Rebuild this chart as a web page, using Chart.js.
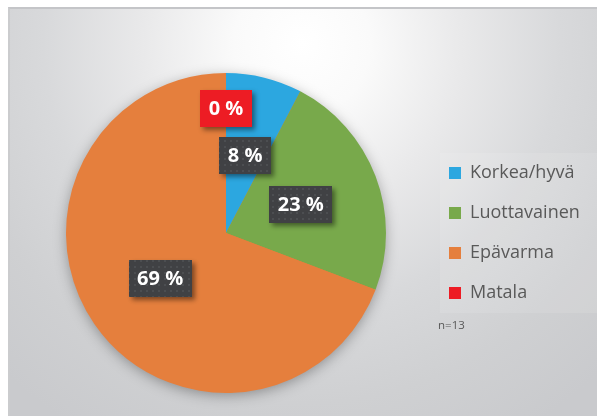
<!DOCTYPE html>
<html>
<head>
<meta charset="utf-8">
<script src="https://cdn.jsdelivr.net/npm/chart.js@4.4.1/dist/chart.umd.min.js"></script>
<style>
  html, body { margin: 0; padding: 0; background: #fff; }
  body { width: 597px; height: 416px; position: relative; overflow: hidden; }
  #bg {
    position: absolute; left: 8px; top: 7px; width: 600px; height: 420px;
    border-top: 2px solid #c4c5c8; border-left: 2px solid #cbccce;
    background: radial-gradient(ellipse 380px 390px at 292px 35px,
      #ffffff 0%, #fafafa 18%, #e9e9ea 42%, #d8d9db 68%, #cfd0d2 92%, #c9cacd 115%);
  }
  #chart { position: absolute; left: 0; top: 0; }
</style>
</head>
<body>
<div id="bg"></div>
<canvas id="chart" width="597" height="416"></canvas>
<script>
const categories = ['Korkea/hyvä', 'Luottavainen', 'Epävarma', 'Matala'];
const counts = [1, 3, 9, 0];
const sliceColors = ['#2CA7E0', '#78A94B', '#E57F3D', '#ED1C24'];
const sampleSize = 13;

// dotted fill for the dark label boxes
function makeDotPattern(ctx) {
    const c = document.createElement('canvas');
    c.width = 6; c.height = 6;
    const p = c.getContext('2d');
    p.fillStyle = '#404144';
    p.fillRect(0, 0, 6, 6);
    p.fillStyle = '#4c4e51';
    p.fillRect(2, 2, 2, 2);
    return ctx.createPattern(c, 'repeat');
}

const pieExtras = {
    id: 'pieExtras',
    beforeDraw(chart) {
        // faint panel behind the legend
        const ctx = chart.ctx, lg = chart.legend, ca = chart.chartArea;
        const cy = (ca.top + ca.bottom) / 2;
        ctx.save();
        ctx.fillStyle = 'rgba(255,255,255,0.1)';
        ctx.fillRect(lg.left + 13, cy - 80, chart.width - lg.left - 13, 160);
        ctx.restore();
    },
    beforeDatasetsDraw(chart) {
        // soft shadow under the pie
        const arc = chart.getDatasetMeta(0).data[0];
        const ctx = chart.ctx;
        ctx.save();
        ctx.shadowColor = 'rgba(0,0,0,0.35)';
        ctx.shadowBlur = 14;
        ctx.shadowOffsetY = 3;
        ctx.fillStyle = sliceColors[2];
        ctx.beginPath();
        ctx.arc(arc.x, arc.y, arc.outerRadius - 1, 0, Math.PI * 2);
        ctx.fill();
        ctx.restore();
    },
    afterDatasetsDraw(chart) {
        const ctx = chart.ctx;
        const meta = chart.getDatasetMeta(0);
        const pattern = makeDotPattern(ctx);
        ctx.save();
        ctx.font = 'bold 20px "Open Sans"';
        ctx.textAlign = 'center';
        ctx.textBaseline = 'middle';
        meta.data.forEach((arc, i) => {
            const text = Math.round(counts[i] / sampleSize * 100) + ' %';
            let x, y;
            if (counts[i] === 0) {
                const r = arc.outerRadius * 0.78;
                x = arc.x + Math.cos(arc.startAngle) * r;
                y = arc.y + Math.sin(arc.startAngle) * r;
            } else {
                const p = arc.tooltipPosition();
                x = p.x; y = p.y;
            }
            const w = Math.round(ctx.measureText(text).width + 17), h = 37;
            ctx.save();
            ctx.shadowColor = 'rgba(0,0,0,0.45)';
            ctx.shadowBlur = 5;
            ctx.shadowOffsetX = 3;
            ctx.shadowOffsetY = 3;
            ctx.fillStyle = counts[i] === 0 ? sliceColors[3] : pattern;
            ctx.fillRect(Math.round(x - w / 2), Math.round(y - h / 2), w, h);
            ctx.restore();
            ctx.fillStyle = '#ffffff';
            ctx.fillText(text, x, y + 1);
        });
        ctx.restore();
    },
    afterDraw(chart) {
        const ctx = chart.ctx;
        ctx.save();
        ctx.font = '11.5px "Open Sans"';
        ctx.fillStyle = '#595959';
        ctx.textBaseline = 'middle';
        ctx.fillText('n=' + sampleSize, chart.legend.left + 11, chart.chartArea.bottom - 67);
        ctx.restore();
    }
};

new Chart(document.getElementById('chart').getContext('2d'), {
    type: 'pie',
    data: {
        labels: categories,
        datasets: [{
            data: counts,
            backgroundColor: sliceColors,
            borderWidth: 0
        }]
    },
    options: {
        responsive: false,
        animation: false,
        layout: { padding: { top: 73, bottom: 23, left: 25, right: 10 } },
        plugins: {
            tooltip: { enabled: false },
            legend: {
                position: 'right',
                maxWidth: 160,
                labels: {
                    boxWidth: 12,
                    boxHeight: 12,
                    padding: 22,
                    color: '#595959',
                    font: { family: 'Open Sans', size: 18 }
                }
            }
        }
    },
    plugins: [pieExtras]
});
</script>
</body>
</html>
